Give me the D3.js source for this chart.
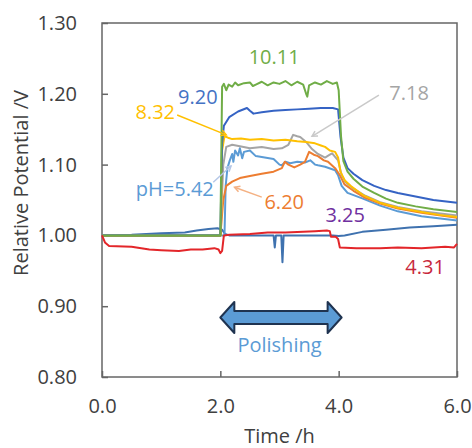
<!DOCTYPE html>
<html>
<head>
<meta charset="utf-8">
<script src="https://cdn.jsdelivr.net/npm/d3@7"></script>
<style>
  body { margin: 0; background: #fff; }
  svg text { font-family: "Open Sans", sans-serif; }
</style>
</head>
<body>
<svg id="chart"></svg>
<script>
// readings taken off the figure: [time h, relative potential V]
const ph1011 = [[0,1.0],[1.98,1.0],[2.0,1.0],[2.03,1.21],[2.06,1.214],[2.1,1.205],[2.14,1.213],[2.2,1.21],[2.25,1.216],[2.3,1.212],[2.4,1.215],[2.5,1.216],[2.55,1.211],[2.6,1.213],[2.7,1.217],[2.8,1.212],[2.9,1.216],[3.0,1.214],[3.1,1.218],[3.2,1.212],[3.3,1.217],[3.4,1.213],[3.45,1.2],[3.47,1.196],[3.5,1.212],[3.6,1.216],[3.7,1.213],[3.8,1.218],[3.9,1.214],[3.97,1.216],[4.0,1.205],[4.04,1.14],[4.08,1.105],[4.15,1.09],[4.25,1.08],[4.4,1.069],[4.6,1.06],[4.8,1.052],[5.0,1.046],[5.3,1.041],[5.6,1.037],[6.0,1.033]];
const ph920 = [[0,1.0],[2.0,1.0],[2.03,1.13],[2.06,1.155],[2.15,1.167],[2.3,1.175],[2.45,1.18],[2.5,1.176],[2.56,1.172],[2.7,1.174],[2.9,1.176],[3.1,1.177],[3.3,1.178],[3.5,1.179],[3.7,1.18],[3.9,1.18],[3.99,1.178],[4.03,1.14],[4.08,1.11],[4.15,1.095],[4.25,1.087],[4.4,1.078],[4.6,1.07],[4.8,1.064],[5.0,1.06],[5.3,1.055],[5.6,1.05],[6.0,1.046]];
const ph832 = [[0,0.999],[1.98,0.999],[2.01,1.0],[2.03,1.12],[2.07,1.14],[2.13,1.138],[2.2,1.136],[2.35,1.137],[2.5,1.135],[2.7,1.136],[2.9,1.134],[3.1,1.135],[3.3,1.133],[3.45,1.132],[3.6,1.13],[3.7,1.127],[3.77,1.125],[3.85,1.12],[3.94,1.118],[3.99,1.11],[4.03,1.09],[4.1,1.078],[4.2,1.07],[4.41,1.057],[4.7,1.046],[5.0,1.039],[5.4,1.033],[5.7,1.029],[6.0,1.026]];
const ph718 = [[0,1.0],[2.0,1.0],[2.05,1.1],[2.1,1.125],[2.2,1.128],[2.33,1.126],[2.5,1.123],[2.7,1.125],[2.9,1.122],[3.04,1.123],[3.15,1.128],[3.23,1.142],[3.3,1.14],[3.35,1.139],[3.45,1.132],[3.55,1.122],[3.65,1.115],[3.77,1.11],[3.85,1.114],[3.89,1.116],[3.95,1.11],[3.99,1.106],[4.05,1.085],[4.12,1.075],[4.25,1.066],[4.45,1.056],[4.7,1.047],[5.0,1.04],[5.4,1.034],[6.0,1.028]];
const ph620 = [[0,1.0],[2.0,1.0],[2.05,1.05],[2.1,1.07],[2.2,1.076],[2.33,1.081],[2.5,1.084],[2.7,1.087],[2.9,1.09],[3.04,1.095],[3.09,1.104],[3.15,1.1],[3.25,1.096],[3.35,1.1],[3.43,1.104],[3.5,1.118],[3.58,1.114],[3.65,1.112],[3.75,1.106],[3.82,1.104],[3.94,1.095],[4.02,1.085],[4.1,1.072],[4.25,1.063],[4.45,1.053],[4.7,1.045],[5.0,1.038],[5.4,1.032],[6.0,1.025]];
const ph542 = [[0,1.0],[2.0,1.0],[2.07,1.0],[2.09,1.07],[2.12,1.095],[2.16,1.106],[2.2,1.115],[2.22,1.104],[2.25,1.12],[2.3,1.113],[2.33,1.123],[2.37,1.109],[2.4,1.118],[2.5,1.12],[2.6,1.112],[2.75,1.11],[2.9,1.108],[3.0,1.1],[3.04,1.099],[3.1,1.104],[3.18,1.102],[3.3,1.104],[3.43,1.103],[3.52,1.106],[3.6,1.1],[3.65,1.099],[3.77,1.097],[3.94,1.092],[3.99,1.085],[4.05,1.07],[4.15,1.06],[4.41,1.052],[4.7,1.042],[5.0,1.034],[5.4,1.027],[6.0,1.021]];
const ph325 = [[0,1.0],[0.5,1.001],[1.0,1.003],[1.4,1.004],[1.6,1.007],[1.8,1.009],[1.95,1.01],[2.03,1.008],[2.08,1.002],[2.15,1.0],[2.5,1.0],[2.9,1.0],[2.92,0.983],[2.94,1.0],[3.03,1.0],[3.05,0.962],[3.07,1.0],[3.5,1.0],[3.9,1.0],[4.0,0.999],[4.1,1.0],[4.4,1.005],[4.8,1.008],[5.2,1.011],[5.6,1.013],[6.0,1.015]];
const ph431 = [[0,1.0],[0.05,0.99],[0.12,0.985],[0.5,0.984],[0.8,0.98],[1.0,0.979],[1.3,0.978],[1.5,0.98],[1.7,0.98],[1.9,0.982],[1.97,0.98],[2.0,0.975],[2.03,0.978],[2.06,1.0],[2.15,1.001],[2.5,1.002],[2.8,1.004],[3.1,1.004],[3.4,1.005],[3.6,1.006],[3.8,1.007],[3.85,1.006],[3.87,0.998],[3.95,0.998],[3.99,0.995],[4.02,0.983],[4.3,0.982],[4.7,0.982],[5.0,0.983],[5.4,0.982],[5.8,0.984],[5.95,0.983],[6.0,0.988]];

const seriesNames = ["3.25", "pH=5.42", "6.20", "7.18", "8.32", "9.20", "10.11", "4.31"];
const seriesValues = [ph325, ph542, ph620, ph718, ph832, ph920, ph1011, ph431];
const lineColors = ["#3f72af", "#5b9bd5", "#ed7d31", "#a5a5a5", "#ffc000", "#3563c4", "#70ad47", "#e3262a"];

const xTicks = [0, 2, 4, 6];
const yTicks = [0.8, 0.9, 1.0, 1.1, 1.2, 1.3];

const W = 472, H = 448;
const margin = {top: 23, right: 15, bottom: 71, left: 102};
const width = W - margin.left - margin.right,
    height = H - margin.top - margin.bottom;

const svg = d3.select('#chart').attr('width', W).attr('height', H);
svg.append('rect').attr('width', W).attr('height', H).attr('fill', '#fff');
const g = svg.append('g').attr('transform', `translate(${margin.left}, ${margin.top})`);

const x = d3.scaleLinear().domain([0, 6]).range([0, width]);
const y = d3.scaleLinear().domain([0.8, 1.3]).range([height, 0]);

const xAxis = d3.axisBottom(x).tickValues(xTicks).tickFormat(d3.format('.1f')).tickSizeInner(-6).tickSizeOuter(0).tickPadding(22);
const yAxis = d3.axisLeft(y).tickValues(yTicks).tickFormat(d3.format('.2f')).tickSizeInner(-6).tickSizeOuter(0).tickPadding(25);

const styleAxis = sel => {
    sel.select('.domain').remove();
    sel.selectAll('line').attr('stroke', '#666').attr('stroke-width', 1.5);
    sel.selectAll('text').attr('fill', '#404040').style('font-size', '20px');
};
g.append('g').attr('transform', `translate(0, ${height})`).call(xAxis).call(styleAxis);
g.append('g').call(yAxis).call(styleAxis);

g.append('rect').attr('width', width).attr('height', height)
    .attr('fill', 'none').attr('stroke', '#666').attr('stroke-width', 1.5);

// axis titles
svg.append('text').attr('x', margin.left + width / 2).attr('y', 443)
    .attr('text-anchor', 'middle').attr('fill', '#404040').style('font-size', '20px')
    .text('Time /h');
svg.append('text').attr('transform', `translate(28, ${margin.top + height / 2 - 17}) rotate(-90)`)
    .attr('text-anchor', 'middle').attr('fill', '#404040').style('font-size', '20px')
    .text('Relative Potential /V');

// series
const line = d3.line().x(d => x(d[0])).y(d => y(d[1]));
g.selectAll('.series').data(seriesValues).join('path')
    .classed('series', true)
    .attr('d', line)
    .attr('fill', 'none')
    .attr('stroke', (d, i) => lineColors[i])
    .attr('stroke-width', 2)
    .attr('stroke-linejoin', 'round');

// labels, in data units: text, time, potential, colour, leader [t0,v0,t1,v1]
const labels = [
    ["10.11", 2.91, 1.242, "#70ad47", null],
    ["9.20", 1.62, 1.186, "#4472c4", null],
    ["8.32", 0.90, 1.164, "#ffc000", [1.27, 1.170, 2.10, 1.142]],
    ["pH=5.42", 1.23, 1.056, "#5b9bd5", [1.88, 1.075, 2.18, 1.098]],
    ["6.20", 3.08, 1.037, "#ed7d31", [2.70, 1.054, 2.24, 1.068]],
    ["7.18", 5.19, 1.191, "#a5a5a5", [4.68, 1.198, 3.55, 1.140]],
    ["3.25", 4.11, 1.019, "#7030a0", null],
    ["4.31", 5.46, 0.945, "#c8283c", null]
];
const leaderColors = {"8.32": "#ffc000", "pH=5.42": "#b4c7e7", "6.20": "#f4b183", "7.18": "#c9c9c9"};

labels.filter(d => d[4]).forEach(d => {
    const [t0, v0, t1, v1] = d[4];
    const x0 = x(t0), y0 = y(v0), x1 = x(t1), y1 = y(v1);
    const c = leaderColors[d[0]];
    g.append('line').attr('x1', x0).attr('y1', y0).attr('x2', x1).attr('y2', y1)
        .attr('stroke', c).attr('stroke-width', 1.5);
    const a = Math.atan2(y1 - y0, x1 - x0), s = 6;
    g.append('path')
        .attr('d', `M${x1 - s * Math.cos(a - 0.5)},${y1 - s * Math.sin(a - 0.5)}L${x1},${y1}L${x1 - s * Math.cos(a + 0.5)},${y1 - s * Math.sin(a + 0.5)}`)
        .attr('fill', 'none').attr('stroke', c).attr('stroke-width', 1.5);
});

g.selectAll('.lbl').data(labels).join('text')
    .classed('lbl', true)
    .attr('x', d => x(d[1])).attr('y', d => y(d[2]))
    .attr('text-anchor', 'middle')
    .attr('fill', d => d[3])
    .style('font-size', '20px')
    .text(d => d[0]);

// polishing arrow
const ax0 = x(2.0), ax1 = x(4.05), ay = y(0.884);
const shaft = 6.5, head = 15.5, headLen = 14;
const arrow = d3.path();
arrow.moveTo(ax0, ay);
arrow.lineTo(ax0 + headLen, ay - head);
arrow.lineTo(ax0 + headLen, ay - shaft);
arrow.lineTo(ax1 - headLen, ay - shaft);
arrow.lineTo(ax1 - headLen, ay - head);
arrow.lineTo(ax1, ay);
arrow.lineTo(ax1 - headLen, ay + head);
arrow.lineTo(ax1 - headLen, ay + shaft);
arrow.lineTo(ax0 + headLen, ay + shaft);
arrow.lineTo(ax0 + headLen, ay + head);
arrow.closePath();
g.append('path').attr('d', arrow.toString())
    .attr('fill', '#5b9bd5').attr('stroke', '#1f3350').attr('stroke-width', 2).attr('stroke-linejoin', 'round');

g.append('text').attr('x', x(3.0)).attr('y', y(0.835))
    .attr('text-anchor', 'middle').attr('fill', '#5b9bd5').style('font-size', '20px')
    .text('Polishing');
</script>
</body>
</html>
